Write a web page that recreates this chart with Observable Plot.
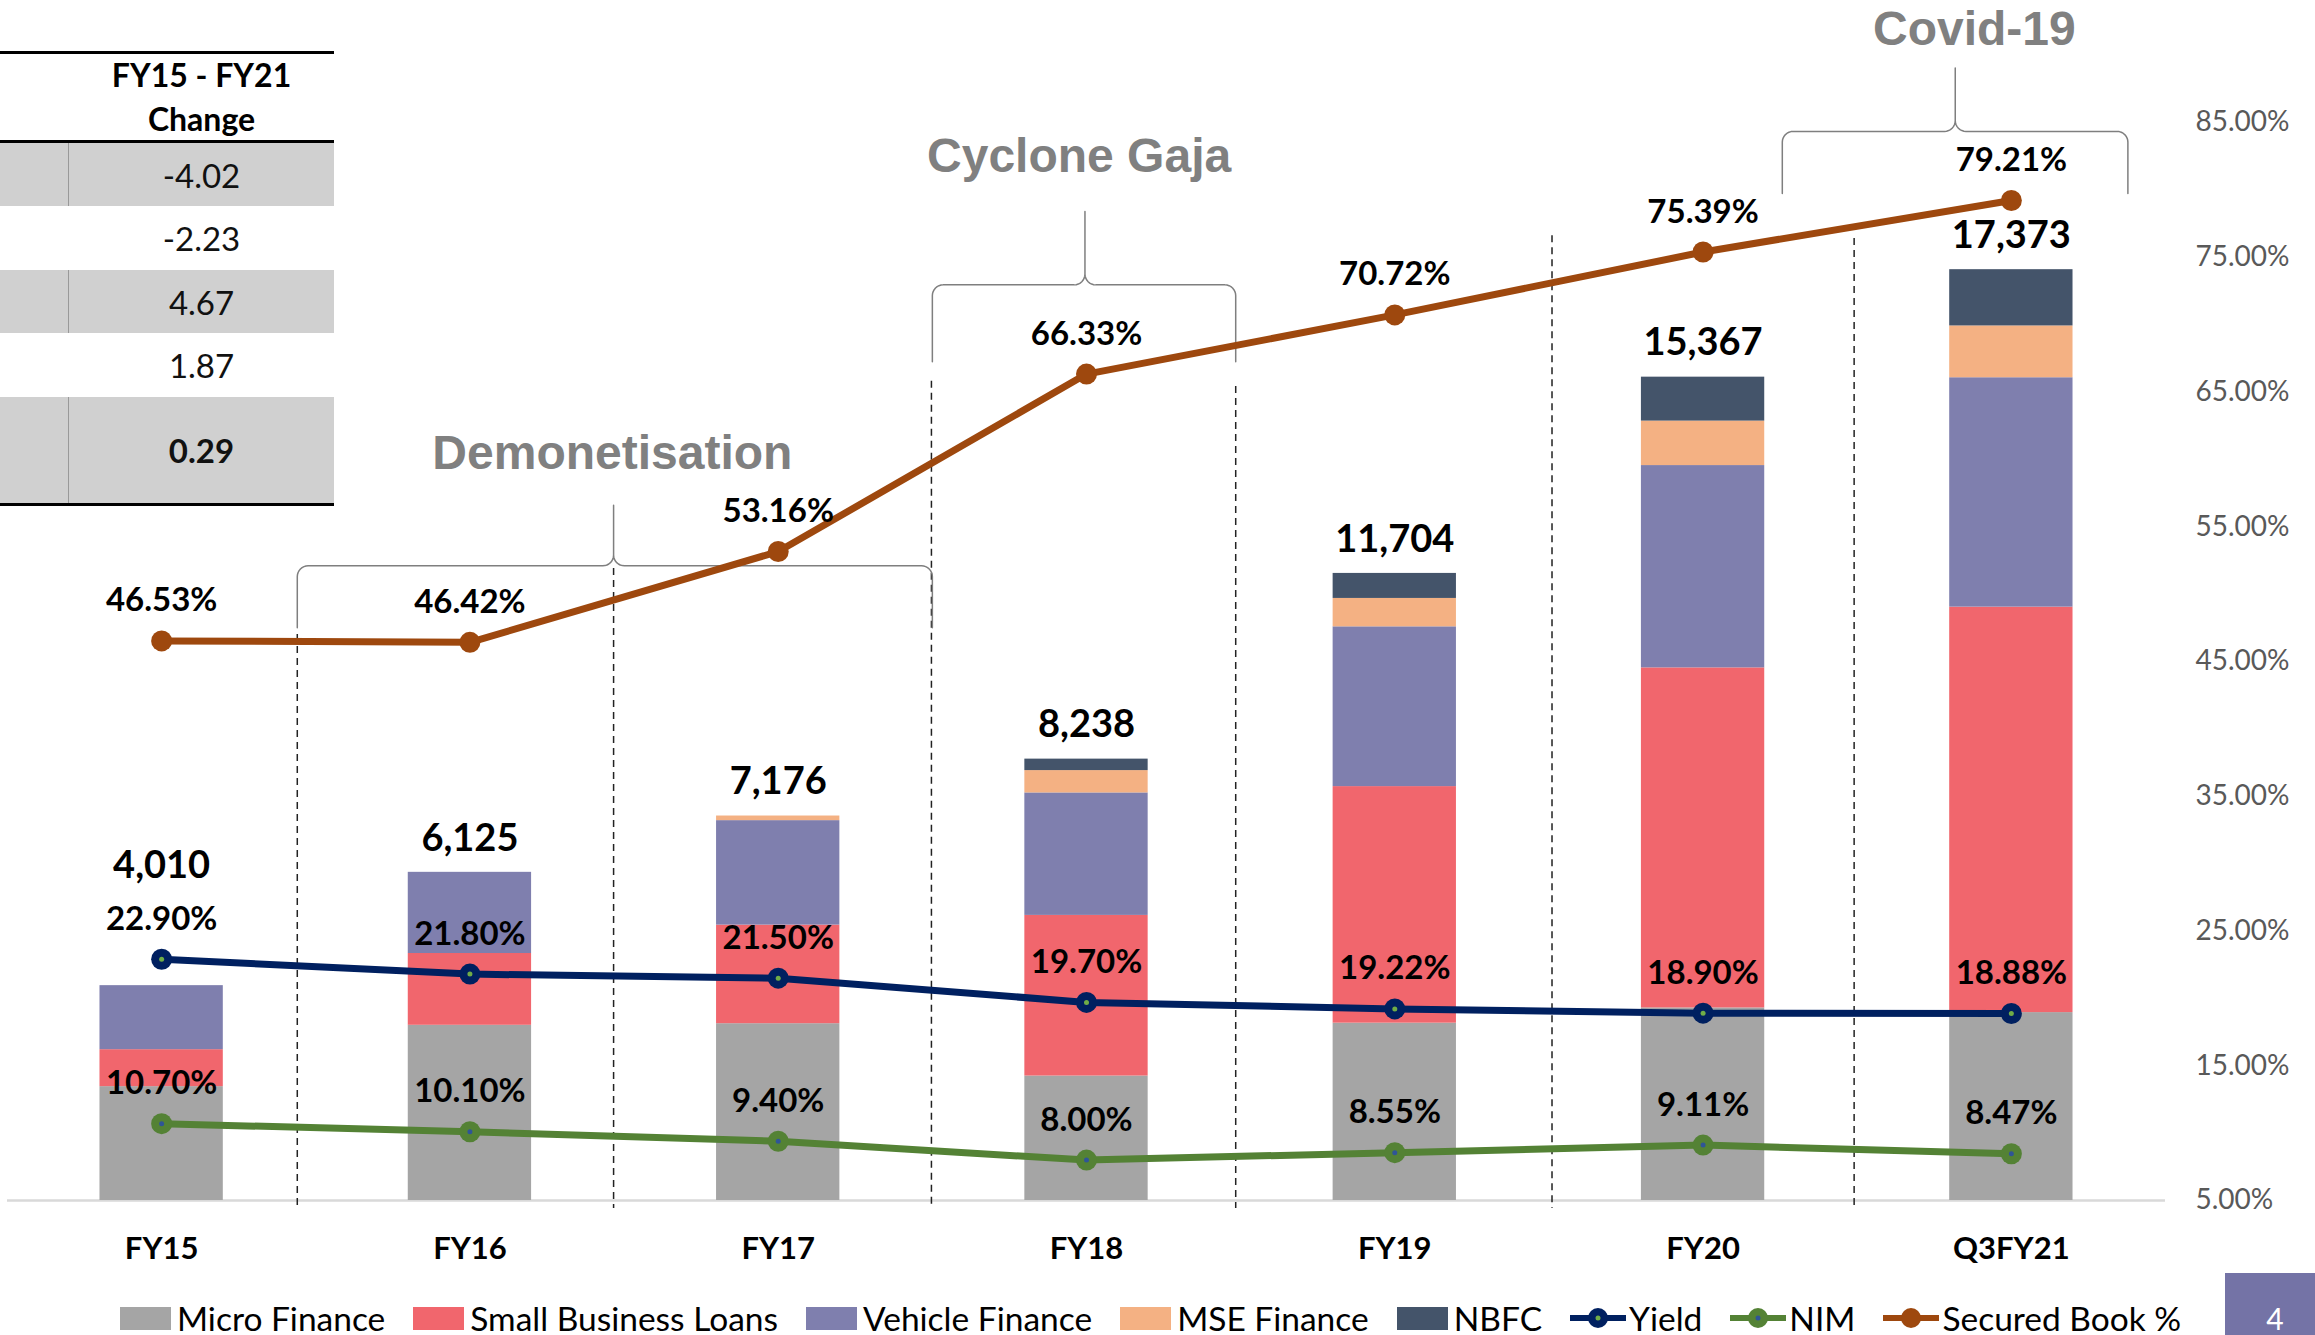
<!DOCTYPE html>
<html><head><meta charset="utf-8">
<script src="https://cdn.jsdelivr.net/npm/d3@7"></script>
<script src="https://cdn.jsdelivr.net/npm/@observablehq/plot@0.6"></script>
<style>
html,body{margin:0;padding:0;background:#fff;}
body{width:2315px;height:1335px;overflow:hidden;position:relative;font-family:Lato,"Open Sans",sans-serif;}
#chart{position:absolute;left:0;top:0;}
#table{position:absolute;left:0;top:51px;width:334px;border-top:3px solid #000;border-bottom:3px solid #000;}
#table .hdr{height:89px;border-bottom:3px solid #000;display:flex;flex-direction:column;justify-content:center;align-items:center;padding-left:69px;box-sizing:border-box;font-weight:700;font-size:32px;line-height:44px;color:#000;}
#table .row{display:flex;align-items:center;box-sizing:border-box;font-size:33px;color:#111;}
#table .row.g{background:#d0d0d0;}
#table .row .l{width:69px;height:100%;box-sizing:border-box;}
#table .row.g .l{border-right:1.5px solid #999;}
#table .row .v{flex:1;text-align:center;}
#legend{position:absolute;left:120px;top:1297px;height:42px;display:flex;align-items:center;font-size:33.5px;color:#000;white-space:nowrap;}
#legend .it{display:flex;align-items:center;margin-right:28px;}
#legend .sw{width:51px;height:23px;margin-right:6px;}
#legend svg{margin-right:3px;}
#page{position:absolute;left:2225px;top:1273px;width:90px;height:62px;background:#7473a6;color:#fff;font-size:30px;text-align:center;line-height:90px;padding-left:10px;box-sizing:border-box;overflow:hidden;}
</style></head><body>
<div id="chart"></div>
<div id="table"></div>
<div id="legend"></div>
<div id="page">4</div>
<script>
// ---------- data ----------
const categories = ["FY15","FY16","FY17","FY18","FY19","FY20","Q3FY21"];
const seriesNames = ["Micro Finance","Small Business Loans","Vehicle Finance","MSE Finance","NBFC"];
const microFinance   = [2125,3270,3300,2323,3310,3594,3507];
const smallBusiness  = [690,1340,1840,2998,4415,6347,7568];
const vehicleFinance = [1195,1515,1950,2286,2982,3776,4281];
const mseFinance     = [0,0,86,417,530,830,967];
const nbfc           = [0,0,0,214,467,820,1050];
const totals         = [4010,6125,7176,8238,11704,15367,17373];
const lineNames = ["Yield","NIM","Secured Book %"];
const yieldPct   = [22.90,21.80,21.50,19.70,19.22,18.90,18.88];
const nimPct     = [10.70,10.10,9.40,8.00,8.55,9.11,8.47];
const securedPct = [46.53,46.42,53.16,66.33,70.72,75.39,79.21];
const rightTicks = [5,15,25,35,45,55,65,75,85];
const tableHeader = ["FY15 - FY21","Change"];
const tableValues = ["-4.02","-2.23","4.67","1.87","0.29"];
const eventLabels = ["Demonetisation","Cyclone Gaja","Covid-19"];

// ---------- styling / layout ----------
const barColors = ["#a5a5a5","#f1666d","#7f7fae","#f4b183","#44546a"];
const lineColors = ["#002060","#548235","#9e480e"];
const innerColors = ["#70ad47","#2f5597","#9e480e"];
const K = 251.5;                       // bar units per percentage point (dual axis)
const toY = p => (p - 5) * K;          // percentage -> primary axis units
const yMax = toY(85);

// annotation geometry in data units (x: category index, y: percent)
const dividers = [{x:0.44,top:47.0},{x:1.466,top:51.9},{x:2.497,top:65.8},{x:3.484,top:65.4},{x:4.51,top:76.6},{x:5.49,top:76.4}];
const braces = [
  {x0:0.44, x1:2.5,  tip:1.466, yEnd:47.5, yH:52.1, yTip:56.6, tx:1.462, ty:60.45},
  {x0:2.5,  x1:3.484,tip:2.995, yEnd:67.25,yH:72.95,yTip:78.4, tx:2.976, ty:82.5},
  {x0:5.257,x1:6.378,tip:5.818, yEnd:79.74,yH:84.34,yTip:89.05,tx:5.88,  ty:91.9}
];

// stacked segments
const seriesValues = [microFinance, smallBusiness, vehicleFinance, mseFinance, nbfc];
const segs = [];
categories.forEach((c,i)=>{
  let acc = 0;
  seriesValues.forEach((arr,s)=>{
    const v = arr[i];
    if (v > 0) segs.push({i, series: seriesNames[s], y1: acc, y2: acc + v});
    acc += v;
  });
});

// brace paths
function bracePoints(b, k){
  const rx = 0.035, ry = 0.8, pts = [];
  const arc = (cx, cy, a0, a1) => { for (let t=0;t<=8;t++){ const a=a0+(a1-a0)*t/8; pts.push({k, x:cx+rx*Math.cos(a), y:cy+ry*Math.sin(a)}); } };
  pts.push({k, x:b.x0, y:b.yEnd});
  arc(b.x0+rx, b.yH-ry, Math.PI, Math.PI/2);
  arc(b.tip-rx, b.yH+ry, -Math.PI/2, 0);
  pts.push({k, x:b.tip, y:b.yTip});
  arc(b.tip+rx, b.yH+ry, Math.PI, 1.5*Math.PI);
  arc(b.x1-rx, b.yH-ry, Math.PI/2, 0);
  pts.push({k, x:b.x1, y:b.yEnd});
  return pts;
}
const bracePts = braces.flatMap((b,k)=>bracePoints(b,k));

const lineSeries = [yieldPct, nimPct, securedPct];
const lineData = lineSeries.flatMap((arr,s)=>arr.map((v,i)=>({s, name: lineNames[s], i, v})));
const totalData = totals.map((v,i)=>({i,v}));

const labelFont = {fontFamily:"Lato", fontWeight:700, fill:"#000"};

const plot = Plot.plot({
  width: 2315, height: 1280,
  marginLeft: 7, marginRight: 150, marginTop: 122, marginBottom: 80,
  x: {domain:[-0.5,6.5], axis:null},
  y: {domain:[0,yMax], axis:null},
  color: {domain: seriesNames, range: barColors},
  style: {fontFamily:"Lato", background:"transparent", overflow:"visible"},
  marks: [
    Plot.ruleY([0], {stroke:"#d9d9d9", strokeWidth:2.5}),
    Plot.rectY(segs, {x1: d=>d.i-0.2, x2: d=>d.i+0.2, y1:"y1", y2:"y2", fill:"series"}),
    Plot.ruleX(dividers, {x:"x", y1: d=>toY(d.top), y2: toY(4.4), stroke:"#222", strokeWidth:1.5, strokeDasharray:"7,5"}),
    Plot.line(bracePts, {x:"x", y: d=>toY(d.y), z:"k", stroke:"#7f7f7f", strokeWidth:1.5}),
    Plot.text(braces, {x:"tx", y: d=>toY(d.ty), text:(d,i)=>eventLabels[i], fontFamily:"Liberation Sans", fontWeight:700, fontSize:48, fill:"#808080"}),
    Plot.line(lineData, {x:"i", y: d=>toY(d.v), z:"s", stroke: d=>lineColors[d.s], strokeWidth:7}),
    Plot.dot(lineData, {x:"i", y: d=>toY(d.v), r:10.5, fill: d=>lineColors[d.s], stroke:"none"}),
    Plot.dot(lineData, {filter: d=>d.s<2, x:"i", y: d=>toY(d.v), r:2.5, fill: d=>innerColors[d.s], stroke:"none"}),
    Plot.text(lineData, {x:"i", y: d=>toY(d.v), dy:-40, text: d=>d.v.toFixed(2)+"%", fontSize:33, ...labelFont}),
    Plot.text(totalData, {filter: d=>d.i>0, x:"i", y:"v", dy:-34, text: d=>d3.format(",")(d.v), fontSize:38, ...labelFont}),
    Plot.text(totalData, {filter: d=>d.i===0, x:"i", y:"v", dy:-120, text: d=>d3.format(",")(d.v), fontSize:38, ...labelFont}),
    Plot.text(categories, {x:(d,i)=>i, y:0, dy:49, text:d=>d, fontSize:31, ...labelFont}),
    Plot.axisY({anchor:"right", ticks: rightTicks.map(toY), tickFormat: d=>(d/K+5).toFixed(2)+"%", tickSize:0, tickPadding:30, fontSize:28, color:"#595959", fontFamily:"Lato"})
  ]
});
plot.setAttribute("font-size","28");
document.getElementById("chart").appendChild(plot);

// table
const tbl = document.getElementById("table");
const hdr = document.createElement("div"); hdr.className = "hdr";
tableHeader.forEach(t=>{ const s=document.createElement("div"); s.textContent=t; hdr.appendChild(s); });
tbl.appendChild(hdr);
const rowHeights = [63,64,63,64,106];
tableValues.forEach((v,i)=>{
  const r = document.createElement("div");
  r.className = "row" + (i%2===0 ? " g" : "");
  r.style.height = rowHeights[i] + "px";
  const l = document.createElement("div"); l.className="l";
  const c = document.createElement("div"); c.className="v"; c.textContent=v;
  if (i===tableValues.length-1) c.style.fontWeight = "700";
  r.appendChild(l); r.appendChild(c); tbl.appendChild(r);
});

// legend
const leg = document.getElementById("legend");
seriesNames.forEach((n,i)=>{
  const it=document.createElement("div"); it.className="it";
  it.innerHTML = `<div class="sw" style="background:${barColors[i]}"></div><span>${n}</span>`;
  leg.appendChild(it);
});
lineNames.forEach((n,i)=>{
  const it=document.createElement("div"); it.className="it";
  const inner = i<2 ? `<circle cx="28" cy="12" r="2.5" fill="${innerColors[i]}"/>` : "";
  it.innerHTML = `<svg width="56" height="24"><line x1="0" x2="56" y1="12" y2="12" stroke="${lineColors[i]}" stroke-width="6"/><circle cx="28" cy="12" r="10" fill="${lineColors[i]}"/>${inner}</svg><span>${n}</span>`;
  leg.appendChild(it);
});
</script>
</body></html>
